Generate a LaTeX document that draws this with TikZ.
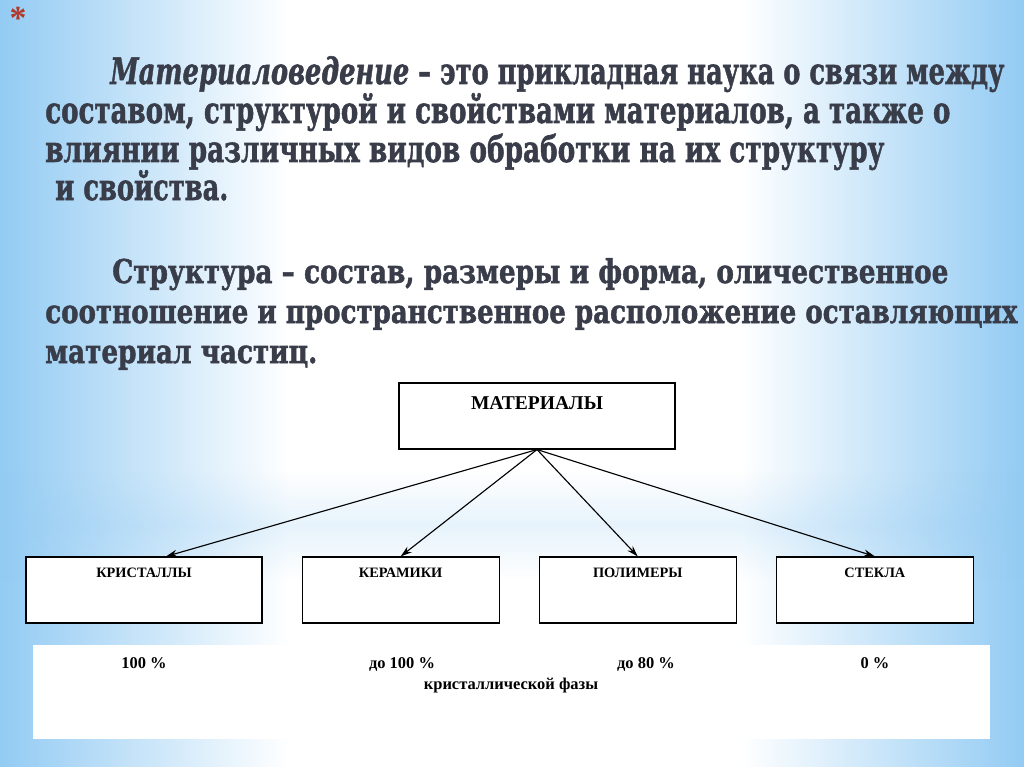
\documentclass[tikz,border=0pt]{standalone}
\usepackage{fontspec}
\setmainfont{Liberation Serif}
\newfontfamily\titlefont[BoldFeatures={FakeBold=1.6}, BoldItalicFeatures={FakeBold=1.6}]{DejaVu Serif}
\usepackage{graphicx}
\usetikzlibrary{positioning}
\usetikzlibrary{arrows.meta}
\usetikzlibrary{fadings}
\definecolor{skyblue}{HTML}{93CBF3}
\definecolor{slate}{HTML}{393D4A}
\definecolor{starred}{HTML}{B0392B}
\newlength{\px}
\setlength{\px}{0.025cm}
% one line of the heading, stretched to a given width and x-height
\newcommand{\fitline}[3]{\resizebox{#1\px}{#2\px}{\raisebox{0pt}[\fontcharht\font`x][0pt]{#3}}}

\begin{document}
\begin{tikzpicture}[x=0.025cm, y=-0.025cm,
    catbox/.style={draw=black, fill=white, line width=0.8pt, inner sep=0pt,
      minimum width=#1, text height=20\px, text depth=46\px,
      font=\bfseries\fontsize{10.2pt}{12pt}\selectfont},
    headline/.style={anchor=base west, inner sep=0pt, text=slate},
    share/.style={anchor=base, inner sep=0pt, font=\bfseries\fontsize{11.7pt}{14pt}\selectfont},
    link/.style={-{Stealth[length=8pt, width=5pt]}, line width=0.8pt}]
    \useasboundingbox (0,0) rectangle (1024,767);
    \clip (0,0) rectangle (1024,767);
    % slide background
    \fill[white] (0,0) rectangle (1024,767);
    \shade[left color=skyblue, right color=white] (0,0) rectangle (290,767);
    \shade[left color=white, right color=skyblue] (740,0) rectangle (1024,767);
    \fill[skyblue, opacity=0.22, path fading=north] (0,470) rectangle (1024,525);
    \fill[skyblue, opacity=0.22, path fading=south] (0,525) rectangle (1024,580);

    \node[text=starred, font=\bfseries\fontsize{24pt}{24pt}\selectfont, inner sep=0pt, anchor=base] (star) at (18,30) {*};

    % definition of the subject
    \node[headline] (defa) at (110,84) {\titlefont\bfseries\fitline{894}{19}{\textit{Материаловедение} – это прикладная наука о связи между}};
    \node[headline] (defb) at (45,123) {\titlefont\bfseries\fitline{905}{19}{составом, структурой и свойствами материалов, а также о}};
    \node[headline] (defc) at (45,162) {\titlefont\bfseries\fitline{839}{19}{влиянии различных видов обработки на их структуру}};
    \node[headline] (defd) at (55,200) {\titlefont\bfseries\fitline{173}{19}{и свойства.}};

    % definition of the structure
    \node[headline] (stra) at (112,283) {\titlefont\bfseries\fitline{836}{17}{Структура – состав, размеры и форма, оличественное}};
    \node[headline] (strb) at (45,323) {\titlefont\bfseries\fitline{972}{17}{соотношение и пространственное расположение оставляющих}};
    \node[headline] (strc) at (45,363) {\titlefont\bfseries\fitline{272}{17}{материал частиц.}};

    % tree
    \node[draw=black, fill=white, line width=0.8pt, inner sep=0pt, minimum width=276\px,
      text height=26\px, text depth=40\px, font=\bfseries\fontsize{13.9pt}{16pt}\selectfont]
      (mat) at (537,416) {МАТЕРИАЛЫ};

    \node[catbox=236\px] (krist) at (144,590) {КРИСТАЛЛЫ};
    \node[catbox=197\px, right=39\px of krist] (keram) {КЕРАМИКИ};
    \node[catbox=197\px, right=39\px of keram] (polim) {ПОЛИМЕРЫ};
    \node[catbox=197\px, right=39\px of polim] (stekla) {СТЕКЛА};

    \draw[link] (mat.south) -- ([xshift=22\px]krist.north);
    \draw[link] (mat.south) -- (keram.north);
    \draw[link] (mat.south) -- (polim.north);
    \draw[link] (mat.south) -- (stekla.north);

    % crystalline share
    \fill[white] (33,645) rectangle (990,739);
    \node[share] (pk) at (144,668) {100 \%};
    \node[share] (pc) at (402,668) {до 100 \%};
    \node[share] (pp) at (646,668) {до 80 \%};
    \node[share] (ps) at (875,668) {0 \%};
    \node[share] (phase) at (511,689) {кристаллической фазы};
\end{tikzpicture}
\end{document}
